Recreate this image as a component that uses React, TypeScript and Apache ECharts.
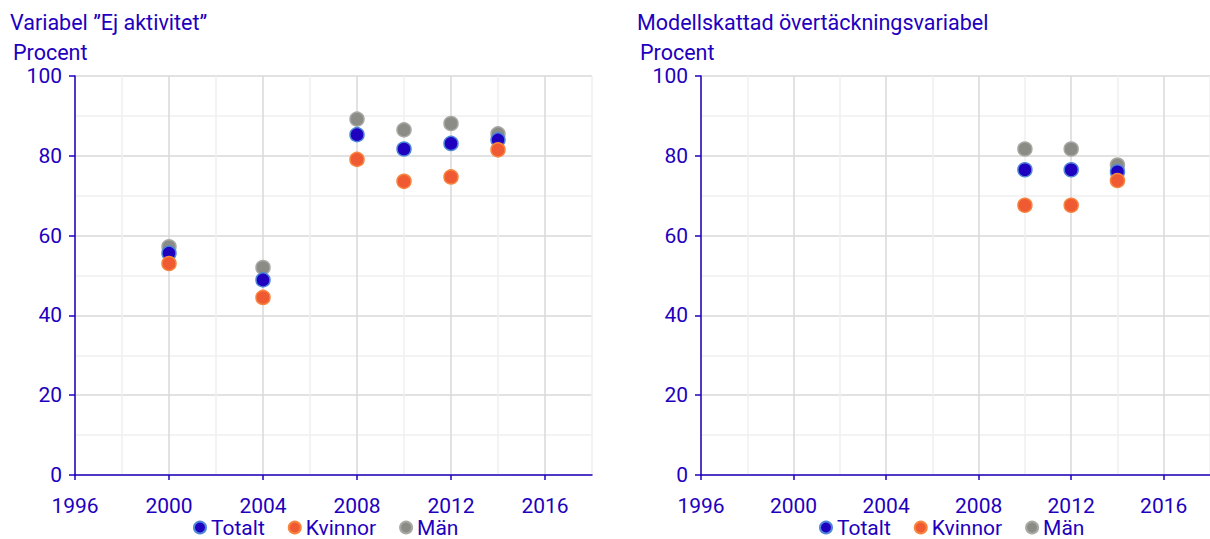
import React, { useEffect, useRef } from "react";
import * as echarts from "echarts";

const years = [2000, 2004, 2008, 2010, 2012, 2014];
const leftTotalt = [55.6, 48.9, 85.3, 81.7, 83.1, 84.0];
const leftKvinnor = [53.0, 44.5, 79.1, 73.6, 74.7, 81.5];
const leftMan = [57.2, 52.0, 89.2, 86.5, 88.1, 85.5];

const rightYears = [2010, 2012, 2014];
const rightTotalt = [76.5, 76.5, 76.0];
const rightKvinnor = [67.6, 67.6, 73.8];
const rightMan = [81.7, 81.7, 77.7];

const seriesNames = ["Totalt", "Kvinnor", "Män"];
const titles = ["Variabel \u201dEj aktivitet\u201d", "Modellskattad övertäckningsvariabel"];
const yUnit = "Procent";
const xTicks = [1996, 2000, 2004, 2008, 2012, 2016];
const yTicks = [0, 20, 40, 60, 80, 100];

const BLUE = "#1E00BE";
const FONT = "Roboto";
const colors = ["#1E00BE", "#F05A32", "#8C8C87"];
const borders = ["#4F86D9", "#F7843F", "#A8A8A4"];
const GRID_COLORS = ["#D9D9D9", "#EFEFEF"];

function pairs(xs: number[], ys: number[]) {
  return xs.map((x, i) => [x, ys[i]]);
}

export default function App() {
  const ref = useRef<HTMLDivElement>(null);
  useEffect(() => {
    if (!ref.current) return;
    const chart = echarts.init(ref.current, undefined, { renderer: "svg" });
    const xGridAxis = (gi: number) => ({
      type: "value",
      gridIndex: gi,
      min: 1996,
      max: 2018,
      interval: 2,
      axisLine: { show: true, onZero: false, lineStyle: { color: BLUE, width: 1.5 } },
      axisTick: { show: false },
      axisLabel: { show: false },
      splitLine: { show: true, lineStyle: { color: GRID_COLORS, width: 1.5 } },
    });
    const xLabelAxis = (gi: number) => ({
      type: "value",
      gridIndex: gi,
      position: "bottom",
      min: 1996,
      max: 2018,
      interval: 4,
      axisLine: { show: false, onZero: false },
      axisTick: { show: true, customValues: xTicks, length: 5, lineStyle: { color: BLUE, width: 1.5 } },
      axisLabel: {
        customValues: xTicks,
        color: BLUE,
        fontFamily: FONT,
        fontSize: 21,
        margin: 20,
        formatter: (v: number) => String(v),
      },
      splitLine: { show: false },
    });
    const yGridAxis = (gi: number) => ({
      type: "value",
      gridIndex: gi,
      min: 0,
      max: 100,
      interval: 10,
      axisLine: { show: true, lineStyle: { color: BLUE, width: 1.5 } },
      axisTick: { show: false },
      axisLabel: { show: false },
      splitLine: { show: true, lineStyle: { color: GRID_COLORS, width: 1.5 } },
    });
    const yLabelAxis = (gi: number) => ({
      type: "value",
      gridIndex: gi,
      position: "left",
      min: 0,
      max: 100,
      interval: 20,
      axisLine: { show: false },
      axisTick: { show: true, customValues: yTicks, length: 6, lineStyle: { color: BLUE, width: 1.5 } },
      axisLabel: {
        customValues: yTicks,
        color: BLUE,
        fontFamily: FONT,
        fontSize: 21,
        margin: 13,
      },
      splitLine: { show: false },
    });
    const mk = (name: string, idx: number, data: number[][], axis: number) => ({
      type: "scatter",
      name,
      xAxisIndex: axis,
      yAxisIndex: axis,
      data,
      symbolSize: 14,
      itemStyle: { color: colors[idx], borderColor: borders[idx], borderWidth: 1.5, opacity: 1 },
      z: 2 + (idx === 0 ? 1 : idx === 1 ? 2 : 0),
    });
    const legend = (left: number) => ({
      show: true,
      left,
      top: 512,
      data: seriesNames.map((n) => ({ name: n, icon: "circle" })),
      itemWidth: 12,
      itemHeight: 12,
      itemGap: 23,
      textStyle: { color: BLUE, fontFamily: FONT, fontSize: 21 },
    });
    const tStyle = { color: BLUE, fontFamily: FONT, fontSize: 21.5, fontWeight: "normal" };
    chart.setOption({
      animation: false,
      textStyle: { fontFamily: FONT },
      title: [
        { text: titles[0], left: 5, top: 6, textStyle: tStyle },
        { text: yUnit, left: 8, top: 36, textStyle: tStyle },
        { text: titles[1], left: 632, top: 6, textStyle: tStyle },
        { text: yUnit, left: 635, top: 36, textStyle: tStyle },
      ],
      legend: [legend(188), legend(814)],
      grid: [
        { left: 75, right: 618, top: 76, bottom: 64, containLabel: false },
        { left: 701, right: -9, top: 76, bottom: 64, containLabel: false },
      ],
      xAxis: [xGridAxis(0), xGridAxis(1), xLabelAxis(0), xLabelAxis(1)],
      yAxis: [yGridAxis(0), yGridAxis(1), yLabelAxis(0), yLabelAxis(1)],
      series: [
        mk(seriesNames[2], 2, pairs(years, leftMan), 0),
        mk(seriesNames[0], 0, pairs(years, leftTotalt), 0),
        mk(seriesNames[1], 1, pairs(years, leftKvinnor), 0),
        mk(seriesNames[2], 2, pairs(rightYears, rightMan), 1),
        mk(seriesNames[0], 0, pairs(rightYears, rightTotalt), 1),
        mk(seriesNames[1], 1, pairs(rightYears, rightKvinnor), 1),
      ],
    });
    return () => chart.dispose();
  }, []);
  return (
    <div
      ref={ref}
      style={{ position: "fixed", left: 0, top: 0, width: 1210, height: 539, overflow: "hidden", background: "#fff" }}
    />
  );
}
